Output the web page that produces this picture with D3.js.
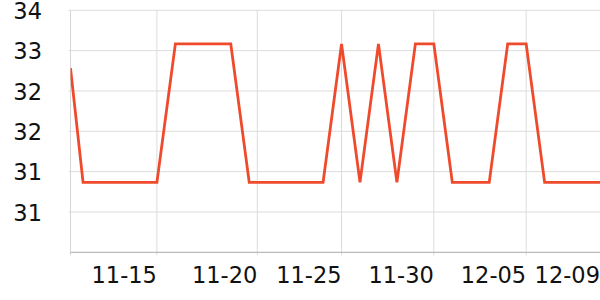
<!DOCTYPE html>
<html>
<head>
<meta charset="utf-8">
<script src="https://cdn.jsdelivr.net/npm/d3@7"></script>
<style>
  html, body { margin: 0; padding: 0; background: #fff; }
  svg { display: block; }
  text { font-family: "DejaVu Sans", sans-serif; }
</style>
</head>
<body>
<svg id="chart" width="600" height="300"></svg>
<script>
// ---- data ----
const dates = [
  "2023-11-10T07:40", "2023-11-11", "2023-11-12", "2023-11-13", "2023-11-14", "2023-11-15",
  "2023-11-16", "2023-11-17", "2023-11-18", "2023-11-19", "2023-11-20",
  "2023-11-21", "2023-11-22", "2023-11-23", "2023-11-24", "2023-11-25",
  "2023-11-26", "2023-11-27", "2023-11-28", "2023-11-29", "2023-11-30",
  "2023-12-01", "2023-12-02", "2023-12-03", "2023-12-04", "2023-12-05",
  "2023-12-06", "2023-12-07", "2023-12-08", "2023-12-09"
];
const values = [
  32.74, 31.04, 31.04, 31.04, 31.04, 31.04,
  33.1, 33.1, 33.1, 33.1, 31.04,
  31.04, 31.04, 31.04, 31.04, 33.1,
  31.04, 33.1, 31.04, 33.1, 33.1,
  31.04, 31.04, 31.04, 33.1, 33.1,
  31.04, 31.04, 31.04, 31.04
];
const xTickDates = ["2023-11-15", "2023-11-20T10:30", "2023-11-25", "2023-11-30", "2023-12-05", "2023-12-09"];
const xTickLabels = ["11-15", "11-20", "11-25", "11-30", "12-05", "12-09"];
const yTicks = [30.6, 31.2, 31.8, 32.4, 33.0, 33.6];
const yDomain = [30.0, 33.6];

// ---- layout ----
const parse = d3.isoParse;
const svg = d3.select("#chart");
const m = { left: 70.5, right: 600, top: 10.3, bottom: 252.3 };

const data = dates.map((d, i) => ({ t: parse(d), v: values[i] }));

const x = d3.scaleTime()
  .domain(d3.extent(data, d => d.t))
  .range([m.left, m.right]);
const y = d3.scaleLinear()
  .domain(yDomain)
  .range([m.bottom, m.top]);

const xt = xTickDates.map(parse);

// horizontal grid
svg.append("g")
  .selectAll("line")
  .data(yTicks)
  .join("line")
  .attr("x1", m.left - 2).attr("x2", m.right)
  .attr("y1", d => y(d)).attr("y2", d => y(d))
  .attr("stroke", "#dcdcdc").attr("stroke-width", 1);

// vertical grid (left axis + date ticks)
svg.append("line")
  .attr("x1", m.left).attr("x2", m.left)
  .attr("y1", m.top).attr("y2", m.bottom + 3)
  .attr("stroke", "#d6d6d6");
svg.append("g")
  .selectAll("line")
  .data(xt.slice(0, -1))
  .join("line")
  .attr("x1", d => x(d)).attr("x2", d => x(d))
  .attr("y1", m.top).attr("y2", m.bottom + 3)
  .attr("stroke", "#dcdcdc").attr("stroke-width", 1);

// bottom axis line
svg.append("line")
  .attr("x1", m.left).attr("x2", m.right)
  .attr("y1", m.bottom).attr("y2", m.bottom)
  .attr("stroke", "#bbbbbb").attr("stroke-width", 1.2);

// y labels
svg.append("g")
  .selectAll("text")
  .data(yTicks)
  .join("text")
  .attr("x", 42)
  .attr("y", d => y(d))
  .attr("dy", "0.39em")
  .attr("text-anchor", "end")
  .attr("font-size", 22.5)
  .attr("fill", "#111")
  .text(d => d3.format(".0f")(d));

// x labels
svg.append("g")
  .selectAll("text")
  .data(xt)
  .join("text")
  .attr("x", d => x(d))
  .attr("y", 283.3)
  .attr("text-anchor", "end")
  .attr("font-size", 22.5)
  .attr("fill", "#111")
  .text((d, i) => xTickLabels[i]);

// line
svg.append("clipPath").attr("id", "clip")
  .append("rect")
  .attr("x", m.left).attr("y", 0)
  .attr("width", m.right - m.left).attr("height", 300);

svg.append("path")
  .datum(data)
  .attr("clip-path", "url(#clip)")
  .attr("fill", "none")
  .attr("stroke", "#ef4a2c")
  .attr("stroke-width", 2.8)
  .attr("stroke-linejoin", "miter")
  .attr("d", d3.line().x(d => x(d.t)).y(d => y(d.v)));
</script>
</body>
</html>
